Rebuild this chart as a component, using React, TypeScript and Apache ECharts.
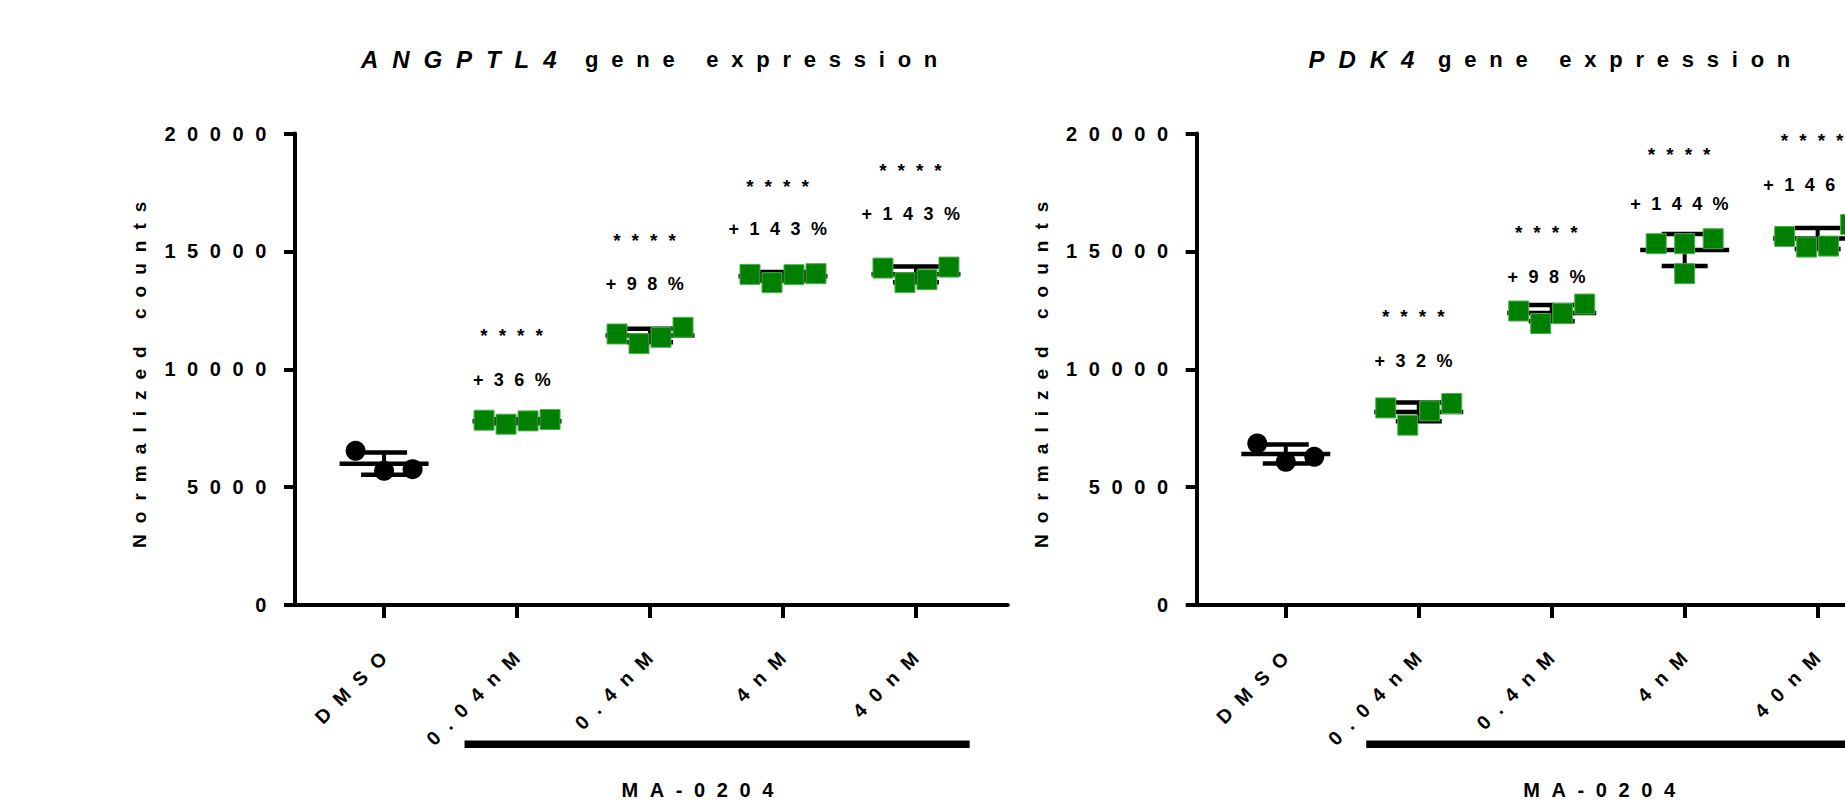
import React, { useEffect, useRef } from 'react';
import * as echarts from 'echarts';

// ---------- data ----------
const categories = ['DMSO', '0.04nM', '0.4nM', '4nM', '40nM'];

// ANGPTL4 normalized counts (one array per group)
const angptl4DMSO = [6538, 5690, 5762];
const angptl4Nm004 = [7838, 7669, 7809, 7868];
const angptl4Nm04 = [11496, 11088, 11355, 11779];
const angptl4Nm4 = [14025, 13672, 14011, 14054];
const angptl4Nm40 = [14292, 13672, 13800, 14334];
const angptl4StarsY = [11622, 15647, 17935, 18613];
const angptl4PctY = [9563, 13630, 15931, 16596];
const angptl4Pct = ['+36%', '+98%', '+143%', '+143%'];

// PDK4 normalized counts
const pdk4DMSO = [6850, 6073, 6284];
const pdk4Nm004 = [8360, 7627, 8233, 8546];
const pdk4Nm04 = [12470, 11936, 12360, 12766];
const pdk4Nm4 = [15326, 15326, 15537, 14054];
const pdk4Nm40 = [15635, 15182, 15224, 16143];
const pdk4StarsY = [12427, 15986, 19278, 19872];
const pdk4PctY = [10351, 13910, 17020, 17795];
const pdk4Pct = ['+32%', '+98%', '+144%', '+146%'];

const starsText = '****';
const treatmentName = 'MA-0204';
const treatmentSpan = [2, 5];
const yAxisName = 'Normalized counts';
const titleRest = 'gene expression';

// ---------- layout / style ----------
const FONT = '"Liberation Sans", Arial, Helvetica, sans-serif';
const GREEN = '#008000';
const ROW_GAP = 850; // values closer than this share one row of the scatter
const X_MIN = 0.33;
const X_MAX = 5.69;
const LABEL_SHIFT = 0.054;

const panels = [
  {
    gene: 'ANGPTL4',
    dmso: angptl4DMSO,
    treated: [angptl4Nm004, angptl4Nm04, angptl4Nm4, angptl4Nm40],
    starsY: angptl4StarsY,
    pctY: angptl4PctY,
    pct: angptl4Pct,
    grid: { left: 295, top: 133.5, width: 712.7, height: 471.5 },
    titleX: [361, 585],
  },
  {
    gene: 'PDK4',
    dmso: pdk4DMSO,
    treated: [pdk4Nm004, pdk4Nm04, pdk4Nm4, pdk4Nm40],
    starsY: pdk4StarsY,
    pctY: pdk4PctY,
    pct: pdk4Pct,
    grid: { left: 1196.7, top: 133.5, width: 712.7, height: 471.5 },
    titleX: [1308.5, 1438],
  },
];

function mean(a: number[]) {
  return a.reduce((s, v) => s + v, 0) / a.length;
}
function sd(a: number[]) {
  const m = mean(a);
  return Math.sqrt(a.reduce((s, v) => s + (v - m) * (v - m), 0) / (a.length - 1));
}

// simple column-scatter arrangement: overlapping values share a centered row
function swarm(values: number[], xPos: number) {
  const idx = values.map((_, i) => i).sort((a, b) => values[a] - values[b]);
  const rows: number[][] = [];
  let cur: number[] = [];
  idx.forEach((i, j) => {
    if (j > 0 && values[i] - values[idx[j - 1]] > ROW_GAP) {
      rows.push(cur);
      cur = [];
    }
    cur.push(i);
  });
  rows.push(cur);
  const offsets = values.map(() => 0);
  rows.forEach((r) => {
    r.sort((a, b) => a - b);
    const n = r.length;
    const step = n > 1 ? Math.min(28.5, 66 / (n - 1)) : 0;
    r.forEach((i, k) => {
      offsets[i] = (k - (n - 1) / 2) * step;
    });
  });
  return values.map((v, i) => ({ value: [xPos, v], symbolOffset: [offsets[i], 0] }));
}

function buildOption() {
  const xAxis: any[] = [];
  const yAxis: any[] = [];
  const series: any[] = [];
  const graphic: any[] = [];

  panels.forEach((p, i) => {
    xAxis.push({
      gridIndex: i,
      type: 'value',
      min: X_MIN,
      max: X_MAX,
      position: 'bottom',
      axisLine: { show: true, onZero: false, lineStyle: { color: '#000', width: 4 } },
      axisTick: {
        show: true,
        customValues: [1, 2, 3, 4, 5],
        length: 13,
        lineStyle: { color: '#000', width: 4 },
      },
      axisLabel: { show: false },
      splitLine: { show: false },
    });
    xAxis.push({
      gridIndex: i,
      type: 'value',
      min: X_MIN - LABEL_SHIFT,
      max: X_MAX - LABEL_SHIFT,
      position: 'bottom',
      axisLine: { show: false },
      axisTick: { show: false },
      splitLine: { show: false },
      axisLabel: {
        show: true,
        customValues: [1, 2, 3, 4, 5],
        formatter: (v: number) => categories[Math.round(v) - 1],
        rotate: 45,
        margin: 42,
        fontSize: 19.5,
        fontWeight: 'bold',
        color: '#000',
        fontFamily: FONT,
      },
    });
    yAxis.push({
      gridIndex: i,
      type: 'value',
      min: 0,
      max: 20000,
      interval: 5000,
      axisLine: { show: true, onZero: false, lineStyle: { color: '#000', width: 4 } },
      axisTick: { show: true, length: 11, lineStyle: { color: '#000', width: 4 } },
      splitLine: { show: false },
      axisLabel: {
        formatter: (v: number) => String(v),
        fontSize: 20,
        fontWeight: 'bold',
        color: '#000',
        fontFamily: FONT,
        margin: 17,
        padding: [14, 0, 0, 0],
      },
      name: yAxisName,
      nameLocation: 'middle',
      nameGap: 146,
      nameTextStyle: { fontSize: 19, fontWeight: 'bold', color: '#000', fontFamily: FONT },
    });

    const axes = { xAxisIndex: 2 * i, yAxisIndex: i };
    const groups = [p.dmso, ...p.treated];

    // mean and SD bars
    series.push({
      type: 'custom',
      ...axes,
      z: 2,
      data: groups.map((g, k) => [k + 1, mean(g), sd(g)]),
      renderItem: (_params: any, api: any) => {
        const x = api.value(0);
        const m = api.value(1);
        const s = api.value(2);
        const c = api.coord([x, m]);
        const t = api.coord([x, m + s]);
        const b = api.coord([x, m - s]);
        const mw = 44.5;
        const cw = 23;
        const st = { stroke: '#000', lineWidth: 4.5 };
        return {
          type: 'group',
          children: [
            { type: 'line', shape: { x1: c[0], y1: t[1], x2: c[0], y2: b[1] }, style: { stroke: '#000', lineWidth: 4 } },
            { type: 'line', shape: { x1: c[0] - mw, y1: c[1], x2: c[0] + mw, y2: c[1] }, style: st },
            { type: 'line', shape: { x1: c[0] - cw, y1: t[1], x2: c[0] + cw, y2: t[1] }, style: st },
            { type: 'line', shape: { x1: c[0] - cw, y1: b[1], x2: c[0] + cw, y2: b[1] }, style: st },
          ],
        };
      },
    });

    // DMSO points
    series.push({
      type: 'scatter',
      name: 'DMSO',
      ...axes,
      z: 3,
      symbol: 'circle',
      symbolSize: 20,
      itemStyle: { color: '#000', opacity: 1 },
      data: swarm(p.dmso, 1),
    });

    // treated points
    series.push({
      type: 'scatter',
      name: treatmentName,
      ...axes,
      z: 3,
      symbol: 'rect',
      symbolSize: 20,
      itemStyle: { color: GREEN, borderColor: '#4fb04f', borderWidth: 1, opacity: 1 },
      data: p.treated.flatMap((g, k) => swarm(g, k + 2)),
    });

    // significance + percent annotations
    series.push({
      type: 'custom',
      ...axes,
      z: 4,
      data: p.pct.map((t, k) => [k + 2, p.starsY[k], p.pctY[k], t]),
      renderItem: (params: any, api: any) => {
        const x = api.value(0);
        const s = api.coord([x, api.value(1)]);
        const q = api.coord([x, api.value(2)]);
        const txt = p.pct[params.dataIndex];
        return {
          type: 'group',
          children: [
            {
              type: 'text',
              x: s[0],
              y: s[1] + 4,
              style: { text: starsText, fontSize: 19, fontWeight: 'bold', fontFamily: FONT, fill: '#000', align: 'center', verticalAlign: 'middle' },
            },
            {
              type: 'text',
              x: q[0],
              y: q[1],
              style: { text: txt, fontSize: 18, fontWeight: 'bold', fontFamily: FONT, fill: '#000', align: 'center', verticalAlign: 'middle' },
            },
          ],
        };
      },
    });

    // treatment bar + name under the axis
    series.push({
      type: 'custom',
      ...axes,
      z: 4,
      clip: false,
      data: [[treatmentSpan[0], treatmentSpan[1]]],
      renderItem: (_params: any, api: any) => {
        const a = api.coord([api.value(0) - 0.395, 0]);
        const b = api.coord([api.value(1) + 0.404, 0]);
        const mid = api.coord([(api.value(0) + api.value(1)) / 2 - 0.1, 0]);
        return {
          type: 'group',
          children: [
            { type: 'rect', shape: { x: a[0], y: a[1] + 135.5, width: b[0] - a[0], height: 7.5 }, style: { fill: '#000' } },
            {
              type: 'text',
              x: mid[0],
              y: a[1] + 185,
              style: { text: treatmentName, fontSize: 20, fontWeight: 'bold', fontFamily: FONT, fill: '#000', align: 'center', verticalAlign: 'middle' },
            },
          ],
        };
      },
    });

    // title
    graphic.push({
      type: 'text',
      x: p.titleX[0],
      y: 59,
      style: { text: p.gene, fontSize: 24, fontWeight: 'bold', fontStyle: 'italic', fontFamily: FONT, fill: '#000', align: 'left', verticalAlign: 'middle' },
    });
    graphic.push({
      type: 'text',
      x: p.titleX[1],
      y: 59,
      style: { text: titleRest, fontSize: 22, fontWeight: 'bold', fontFamily: FONT, fill: '#000', align: 'left', verticalAlign: 'middle' },
    });
  });

  return {
    animation: false,
    backgroundColor: '#fff',
    textStyle: { fontFamily: FONT },
    grid: panels.map((p) => ({ ...p.grid, containLabel: false, outerBoundsMode: 'none' })),
    xAxis,
    yAxis,
    series,
    graphic,
  };
}

export default function App() {
  const ref = useRef<HTMLDivElement>(null);
  useEffect(() => {
    if (!ref.current) return;
    const chart = echarts.init(ref.current, undefined, { renderer: 'svg' });
    chart.setOption(buildOption() as any);
    return () => chart.dispose();
  }, []);
  return (
    <>
      <style>{'.rs-chart text { letter-spacing: 0.58em; }'}</style>
      <div
        ref={ref}
        className="rs-chart"
        style={{
          position: 'fixed',
          left: 0,
          top: 0,
          width: 1845,
          height: 803,
          background: '#fff',
        }}
      />
    </>
  );
}
